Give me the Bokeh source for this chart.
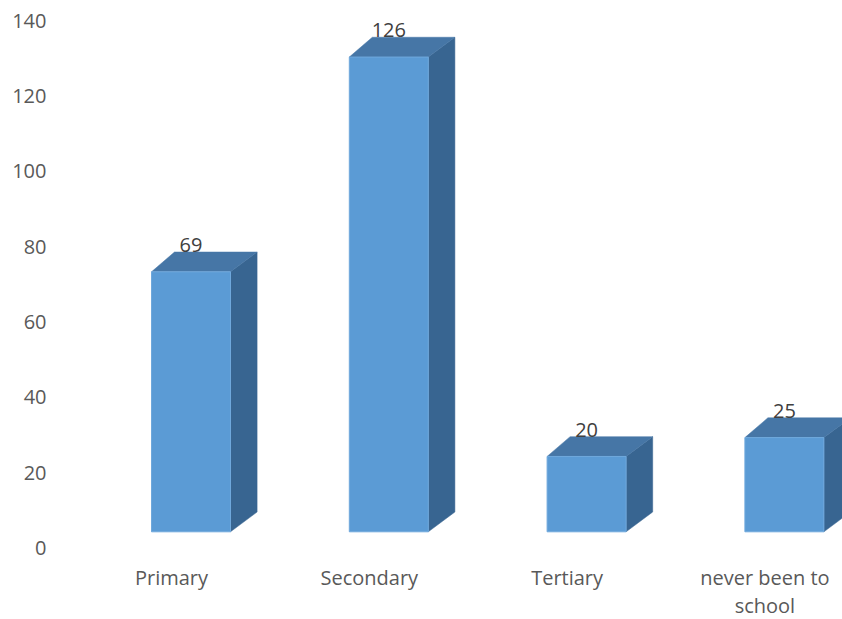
from bokeh.plotting import figure
from bokeh.models import Range1d, FixedTicker, ColumnDataSource
from bokeh.core.properties import value
from bokeh.embed import file_html
from bokeh.resources import INLINE

categories = ["Primary", "Secondary", "Tertiary", "never been to school"]
tick_labels = ["Primary", "Secondary", "Tertiary", "never been to\nschool"]
counts = [69, 126, 20, 25]
y_ticks = [0, 20, 40, 60, 80, 100, 120, 140]

W, H = 842, 619
left_px, top_px, zero_px = 56, 20, 547.5
cat0_px, cat_step_px = 171.0, 197.8
ypx = (zero_px - top_px) / 140.0  # px per unit

x_start = (left_px - cat0_px) / cat_step_px
x_end = (W - cat0_px) / cat_step_px
y_start = -(H - zero_px) / ypx

# 3D styling (in px, converted to data units)
front_l = -20 / cat_step_px
front_r = 59 / cat_step_px
dx_l = 23 / cat_step_px
dx_r = 26.6 / cat_step_px
dy = 19.8 / ypx
floor = 4.3

p = figure(width=W, height=H, output_backend="svg", toolbar_location=None,
           x_range=Range1d(x_start, x_end), y_range=Range1d(y_start, 140),
           min_border_left=left_px, min_border_right=0,
           min_border_top=top_px, min_border_bottom=0,
           background_fill_color="white", border_fill_color="white",
           outline_line_color=None)
p.grid.visible = False
p.xaxis.visible = False

front_xs, front_ys, side_xs, side_ys, top_xs, top_ys = [], [], [], [], [], []
lab_x, lab_y, lab_t = [], [], []
for i, v in enumerate(counts):
    xl, xr = i + front_l, i + front_r
    b, t = floor, floor + v
    front_xs.append([xl, xr, xr, xl]); front_ys.append([b, b, t, t])
    side_xs.append([xr, xr + dx_r, xr + dx_r, xr]); side_ys.append([b, b + dy, t + dy, t])
    top_xs.append([xl, xr, xr + dx_r, xl + dx_l]); top_ys.append([t, t, t + dy, t + dy])
    lab_x.append(i + (front_l + front_r) / 2)
    lab_y.append(t + dy + 7 / ypx)
    lab_t.append(str(v))

p.patches(side_xs, side_ys, fill_color="#386591", line_color="#386591", line_width=0.5)
p.patches(top_xs, top_ys, fill_color="#4676A6", line_color="#4676A6", line_width=0.5)
p.patches(front_xs, front_ys, fill_color="#5B9BD5", line_color="#6FA8DC", line_width=1)

src = ColumnDataSource(dict(x=lab_x, y=lab_y, t=lab_t))
p.text(x="x", y="y", text="t", source=src, text_font=value("Open Sans"),
       text_font_size="20px", text_color="#404040", text_align="center",
       text_baseline="alphabetic")

# category labels below the floor
cat_src = ColumnDataSource(dict(x=list(range(len(categories))),
                                y=[-(563 - zero_px) / ypx] * len(categories),
                                t=tick_labels))
p.text(x="x", y="y", text="t", source=cat_src, text_font=value("Open Sans"),
       text_font_size="20px", text_color="#595959", text_align="center",
       text_baseline="top", text_line_height=1.05)

ax = p.yaxis[0]
ax.axis_line_color = None
ax.major_tick_line_color = None
ax.minor_tick_line_color = None
ax.major_tick_out = 0
ax.major_tick_in = 0
ax.major_label_text_font = "Open Sans"
ax.major_label_text_font_size = "20px"
ax.major_label_text_color = "#595959"
ax.ticker = FixedTicker(ticks=y_ticks)
ax.major_label_standoff = 10

open("out.html", "w").write(file_html(p, INLINE))
